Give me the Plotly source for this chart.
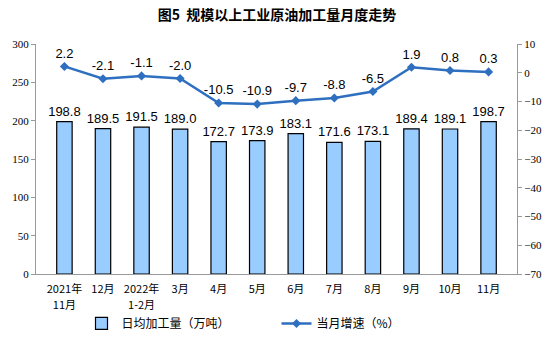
import plotly.graph_objects as go

categories = ["2021年<br>11月", "12月", "2022年<br>1-2月", "3月", "4月", "5月", "6月", "7月", "8月", "9月", "10月", "11月"]
daily_output = [198.8, 189.5, 191.5, 189.0, 172.7, 173.9, 183.1, 171.6, 173.1, 189.4, 189.1, 198.7]
growth = [2.2, -2.1, -1.1, -2.0, -10.5, -10.9, -9.7, -8.8, -6.5, 1.9, 0.8, 0.3]

tick_text = ["<br>".join(f'<span style="font-size:11px">{p}</span>' for p in c.split("<br>"))
             for c in categories]

fig = go.Figure()
fig.add_trace(go.Bar(
    x=categories, y=daily_output, name="日均加工量（万吨）",
    marker=dict(color="#99CCFF", line=dict(color="#000000", width=1.2)),
    width=0.4,
    text=[f"{v:.1f}" for v in daily_output], textposition="outside",
    constraintext="none",
    textfont=dict(family="Liberation Sans, Arial", size=13, color="#000"),
    cliponaxis=False,
))
fig.add_trace(go.Scatter(
    x=categories, y=growth, name="当月增速（%）", yaxis="y2",
    mode="lines+markers+text",
    line=dict(color="#2E6FC0", width=2.5),
    marker=dict(symbol="diamond", size=7, color="#2E6FC0"),
    text=[f"{v:.1f}" for v in growth], textposition="top center",
    textfont=dict(family="Liberation Sans, Arial", size=13, color="#000"),
    cliponaxis=False,
))

tickfont = dict(family="Liberation Serif, Noto Sans CJK SC", size=11, color="#000")
fig.update_layout(
    width=554, height=353,
    margin=dict(l=34, r=31, t=44, b=79),
    paper_bgcolor="white", plot_bgcolor="white",
    title=dict(text="<b>图5  规模以上工业原油加工量月度走势</b>", x=0.5, xanchor="center",
               y=1 - 15/353, yanchor="middle",
               font=dict(family="Noto Sans CJK SC", size=14, color="#000")),
    xaxis=dict(showline=True, linecolor="#999", linewidth=1, ticks="",
               tickmode="array", tickvals=categories, ticktext=tick_text,
               tickfont=dict(family="Noto Sans CJK SC", size=12.5, color="#000"),
               ticklabelstandoff=3, showgrid=False, fixedrange=True),
    yaxis=dict(range=[0, 300], dtick=50, showline=True, linecolor="#999", linewidth=1,
               ticks="outside", ticklen=4, tickcolor="#999", showgrid=False, zeroline=False,
               tickfont=tickfont),
    yaxis2=dict(range=[-70, 10], dtick=10, overlaying="y", side="right", showline=True,
                linecolor="#999", linewidth=1, ticks="outside", ticklen=4, tickcolor="#999",
                showgrid=False, zeroline=False, tickfont=tickfont),
    legend=dict(orientation="h", x=0.5, xanchor="center", y=-0.215, yanchor="middle",
                bgcolor="rgba(0,0,0,0)",
                font=dict(family="Noto Sans CJK SC", size=12, color="#000"),
                entrywidth=150, itemwidth=30),
    showlegend=True,
)
fig.write_html("out.html")
